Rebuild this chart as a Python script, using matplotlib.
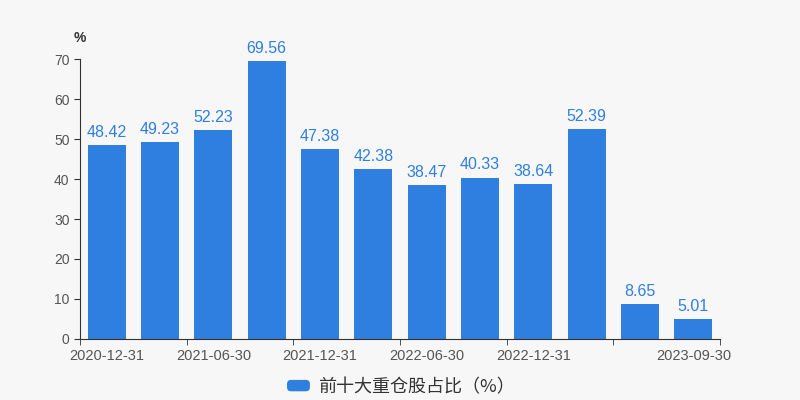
import matplotlib
matplotlib.use('Agg')
import matplotlib.pyplot as plt
from matplotlib.patches import FancyBboxPatch, Rectangle
from matplotlib.legend_handler import HandlerPatch
import numpy as np

dates = ['2020-12-31', '2021-03-31', '2021-06-30', '2021-09-30', '2021-12-31', '2022-03-31',
         '2022-06-30', '2022-09-30', '2022-12-31', '2023-03-31', '2023-06-30', '2023-09-30']
values = [48.42, 49.23, 52.23, 69.56, 47.38, 42.38, 38.47, 40.33, 38.64, 52.39, 8.65, 5.01]
# only some dates get a label (the rest would overlap)
shown = [0, 2, 4, 6, 8, 11]

plt.rcParams['font.family'] = ['Noto Sans CJK SC', 'DejaVu Sans']
bg = '#f7f7f7'
blue = '#2e7fe0'
num_font = 'Liberation Sans'


class RoundHandler(HandlerPatch):
    def create_artists(self, legend, orig_handle, xdescent, ydescent, width, height, fontsize, trans):
        p = FancyBboxPatch((-xdescent + 1.5, -ydescent + 1.5), width - 3, height - 3,
                           boxstyle='round,pad=0,rounding_size=3', facecolor=blue,
                           edgecolor='none', transform=trans)
        return [p]


fig = plt.figure(figsize=(8, 4), dpi=100, facecolor=bg)
ax = fig.add_axes([0.1, 0.1525, 0.8, 0.70])
ax.set_facecolor(bg)

x = np.arange(len(values))
ax.bar(x, values, width=0.71, color=blue)
for xi, v in zip(x, values):
    ax.text(xi, v + 1.3, f'{v:.2f}', ha='center', va='bottom', color=blue,
            fontsize=11.5, family=num_font)

ax.set_xlim(-0.5, len(values) - 0.5)
ax.set_ylim(0, 70)
ax.set_yticks(range(0, 71, 10))
# labels sit under the bars, tick marks on category boundaries
ax.set_xticks(shown)
ax.set_xticklabels([dates[i] for i in shown])
ax.set_xticks(np.arange(-0.5, len(values), 2), minor=True)

for s in ['top', 'right']:
    ax.spines[s].set_visible(False)
ax.spines['left'].set_color('#333333')
ax.spines['bottom'].set_color('#333333')
ax.tick_params(axis='y', colors='#333333', labelcolor='#555555', labelsize=10, length=4)
ax.tick_params(axis='x', which='major', length=0, pad=7, labelcolor='#555555', labelsize=10.5)
ax.tick_params(axis='x', which='minor', length=4, color='#333333')
for lab in ax.get_xticklabels() + ax.get_yticklabels():
    lab.set_family(num_font)

ax.text(0.0, 1.075, '%', transform=ax.transAxes, fontsize=10, color='#333333',
        fontweight='bold', family=num_font, ha='center', va='center')

handle = Rectangle((0, 0), 1, 1, color=blue)
leg = fig.legend([handle], ['前十大重仓股占比（%）'], loc='center',
                 bbox_to_anchor=(0.5, 0.033), frameon=False,
                 fontsize=13, handlelength=1.5, handleheight=0.95, handletextpad=0.35,
                 handler_map={Rectangle: RoundHandler()})
for t in leg.get_texts():
    t.set_color('#333333')

fig.savefig('out.png', dpi=100, facecolor=bg)
